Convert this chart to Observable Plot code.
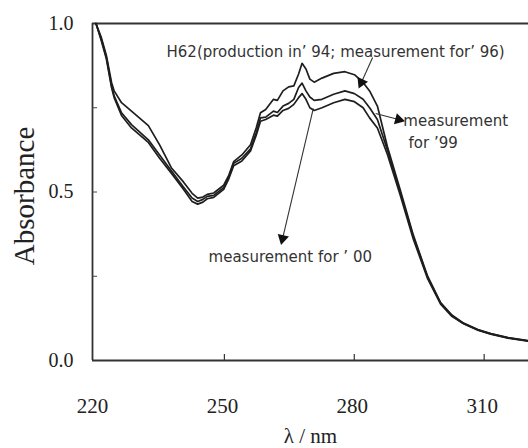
<!DOCTYPE html>
<html>
<head>
<meta charset="utf-8">
<script src="https://cdn.jsdelivr.net/npm/d3@7"></script>
<script src="https://cdn.jsdelivr.net/npm/@observablehq/plot@0.6"></script>
<style>
  html, body { margin: 0; padding: 0; background: #fff; }
  svg { display: block; }
</style>
</head>
<body>
<div id="chart"></div>
<script>
// Wavelength (nm)
const wavelength = [220.8, 222, 223.2, 224.4, 225, 226.7, 229, 232.9, 235.5, 238.2, 241, 243, 244.3, 245.5, 246.5, 248, 250.3, 251.5, 252.6, 254.5, 256.5, 257.8, 258.8, 260, 261.8, 262.7, 264, 265.3, 266.5, 267.6, 268.4, 269.3, 270.2, 271.2, 273, 275.7, 278.3, 280.5, 282.5, 284, 285.8, 288.1, 291.1, 294.1, 297.4, 300.4, 303, 305.7, 309, 312, 316, 320.7];
// Absorbance, measurement for '96
const abs96 = [1.0, 0.96, 0.905, 0.825, 0.80, 0.765, 0.74, 0.697, 0.64, 0.572, 0.53, 0.496, 0.482, 0.485, 0.493, 0.497, 0.52, 0.55, 0.59, 0.61, 0.64, 0.69, 0.735, 0.745, 0.775, 0.772, 0.80, 0.812, 0.815, 0.85, 0.882, 0.865, 0.835, 0.826, 0.838, 0.852, 0.857, 0.848, 0.825, 0.80, 0.755, 0.635, 0.505, 0.372, 0.25, 0.172, 0.135, 0.111, 0.092, 0.080, 0.068, 0.059];
// Absorbance, measurement for '99
const abs99 = [1.0, 0.955, 0.9, 0.815, 0.785, 0.735, 0.70, 0.655, 0.61, 0.563, 0.515, 0.482, 0.472, 0.478, 0.487, 0.49, 0.513, 0.545, 0.585, 0.60, 0.628, 0.675, 0.72, 0.722, 0.74, 0.736, 0.755, 0.763, 0.775, 0.81, 0.823, 0.80, 0.782, 0.772, 0.775, 0.79, 0.80, 0.792, 0.775, 0.75, 0.715, 0.625, 0.498, 0.367, 0.247, 0.17, 0.133, 0.11, 0.091, 0.079, 0.067, 0.058];
// Absorbance, measurement for '00
const abs00 = [1.0, 0.95, 0.895, 0.81, 0.78, 0.727, 0.69, 0.647, 0.60, 0.556, 0.508, 0.472, 0.464, 0.47, 0.48, 0.484, 0.508, 0.54, 0.578, 0.592, 0.622, 0.668, 0.71, 0.715, 0.728, 0.725, 0.742, 0.748, 0.76, 0.78, 0.792, 0.775, 0.75, 0.742, 0.75, 0.765, 0.775, 0.768, 0.75, 0.72, 0.69, 0.612, 0.49, 0.36, 0.243, 0.167, 0.131, 0.109, 0.090, 0.078, 0.066, 0.057];

const seriesNames = ["96", "99", "00"];
const xTicks = [220, 250, 280, 310];
const yTicks = [0, 0.5, 1.0];
const yMinorTicks = [0.25, 0.5, 0.75];
const xInnerTicks = [250, 280, 310];

// Annotations (data coordinates)
const labelTexts = ["H62(production in’ 94; measurement for’ 96)", "measurement", "for ’99", "measurement for ’ 00"];
const labelX = [237.1, 291.8, 293.0, 246.8];
const labelY = [0.914, 0.709, 0.644, 0.306];
const arrowX1 = [284.7, 285.4, 271.0];
const arrowY1 = [0.899, 0.733, 0.748];
const arrowX2 = [282.1, 290.7, 263.9];
const arrowY2 = [0.825, 0.715, 0.362];

const W = 528, H = 448;
const mL = 92, mR = 0, mT = 23, mB = 88;
const xDomain = [220, 320.7];
const yDomain = [0, 1];

const rows = [];
[abs96, abs99, abs00].forEach((arr, k) => {
  arr.forEach((a, i) => rows.push({w: wavelength[i], a, s: seriesNames[k]}));
});

const labels = labelTexts.map((t, i) => ({t, x: labelX[i], y: labelY[i]}));
const xs = Plot.scale({x: {domain: xDomain, range: [mL, W - mR]}});
const ys = Plot.scale({y: {domain: yDomain, range: [H - mB, mT]}});
const arrows = arrowX1.map((x1, i) => {
  const dx = xs.apply(arrowX2[i]) - xs.apply(x1);
  const dy = ys.apply(arrowY2[i]) - ys.apply(arrowY1[i]);
  return {x1, y1: arrowY1[i], x2: arrowX2[i], y2: arrowY2[i], rot: Math.atan2(dx, -dy) * 180 / Math.PI};
});

const ink = "#1e1e1e";
const serif = "'Liberation Serif', 'DejaVu Serif', serif";
const sans = "'DejaVu Sans', 'Liberation Sans', sans-serif";

const chart = Plot.plot({
  width: W, height: H,
  marginLeft: mL, marginRight: mR, marginTop: mT, marginBottom: mB,
  style: {fontFamily: serif, background: "#fff", color: ink},
  x: {domain: xDomain},
  y: {domain: yDomain},
  marks: [
    // frame
    Plot.ruleY([0, 1], {stroke: "#333", strokeWidth: 1.8}),
    Plot.ruleX([220], {stroke: "#333", strokeWidth: 1.8}),
    // inward ticks
    Plot.axisX(xInnerTicks, {tickSize: -6, text: null, stroke: "#333", strokeWidth: 1.2, dx: 2}),
    Plot.axisY(yMinorTicks, {tickSize: -5, text: null, stroke: "#444", strokeWidth: 1}),
    // tick labels
    Plot.axisX(xTicks, {tickSize: 0, tickPadding: 38, fontSize: 21, label: null, fill: "#222"}),
    Plot.axisY(yTicks, {tickSize: 0, tickPadding: 19, fontSize: 20, label: null, tickFormat: d3.format(".1f"), fill: "#222"}),
    // axis titles
    Plot.text(["λ / nm"], {frameAnchor: "bottom", dy: 82, fontSize: 21, fill: "#222"}),
    Plot.text(["Absorbance"], {frameAnchor: "left", textAnchor: "middle", dx: -68, dy: 4, rotate: -90, fontSize: 29, fill: "#222"}),
    // spectra
    Plot.line(rows, {x: "w", y: "a", z: "s", stroke: ink, strokeWidth: 1.7, curve: "linear"}),
    // annotation arrows
    Plot.link(arrows, {x1: "x1", y1: "y1", x2: "x2", y2: "y2", stroke: "#333", strokeWidth: 1.1}),
    Plot.dot(arrows, {x: "x2", y: "y2", symbol: "triangle2", r: 5.5, fill: "#111", rotate: "rot"}),
    // annotation labels
    Plot.text(labels, {x: "x", y: "y", text: "t", textAnchor: "start", fontSize: 15, fontFamily: sans, fill: "#333"})
  ]
});
document.getElementById("chart").appendChild(chart);
</script>
</body>
</html>
